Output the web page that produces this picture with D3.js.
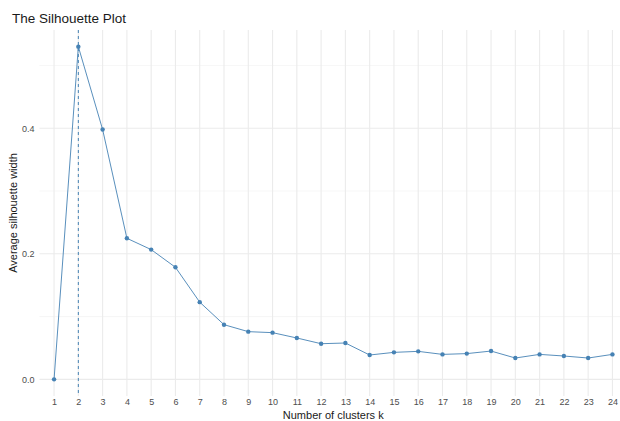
<!DOCTYPE html>
<html>
<head>
<meta charset="utf-8">
<script src="https://cdn.jsdelivr.net/npm/d3@7"></script>
<style>
  body { margin: 0; background: #fff; }
  text { font-family: "Liberation Sans", Arial, sans-serif; }
</style>
</head>
<body>
<div id="chart"></div>
<script>
// number of clusters and average silhouette widths
const clusters = d3.range(1, 25);
const silWidth = [0, 0.530, 0.398, 0.2247, 0.2067, 0.1785, 0.123, 0.0871, 0.076, 0.0744,
  0.0659, 0.0568, 0.0579, 0.0388, 0.043, 0.0446, 0.0398, 0.041, 0.0451, 0.034,
  0.0398, 0.0372, 0.034, 0.0398];
const optimalK = 2;
const yMajor = [0, 0.2, 0.4];
const yMinor = [0.1, 0.3, 0.5];

const W = 620, H = 421;
const panel = {left: 39.5, right: 627, top: 30, bottom: 396};
const lineColor = "#4682B4";

const svg = d3.select("#chart")
  .append("svg")
  .attr("width", W)
  .attr("height", H);

// discrete x axis, 0.6 unit padding each side
const x = d3.scaleLinear()
  .domain([1 - 0.6, 24 + 0.6])
  .range([panel.left, panel.right]);

// 5% expansion on y
const yMax = d3.max(silWidth);
const yPad = yMax * 0.05;
const y = d3.scaleLinear()
  .domain([-yPad, yMax + yPad])
  .range([panel.bottom, panel.top]);

const grid = svg.append("g");

// minor gridlines
grid.selectAll(".minor")
  .data(yMinor)
  .join("line")
    .attr("x1", panel.left).attr("x2", panel.right)
    .attr("y1", d => y(d)).attr("y2", d => y(d))
    .attr("stroke", "#f0f0f0")
    .attr("stroke-width", 0.6);

// major gridlines
grid.selectAll(".majorY")
  .data(yMajor)
  .join("line")
    .attr("x1", panel.left).attr("x2", panel.right)
    .attr("y1", d => y(d)).attr("y2", d => y(d))
    .attr("stroke", "#ebebeb")
    .attr("stroke-width", 1.1);

grid.selectAll(".majorX")
  .data(clusters)
  .join("line")
    .attr("x1", d => x(d)).attr("x2", d => x(d))
    .attr("y1", panel.top).attr("y2", panel.bottom)
    .attr("stroke", "#ebebeb")
    .attr("stroke-width", 1.1);

// x axis labels
const xAxis = svg.append("g")
  .attr("transform", `translate(0, ${panel.bottom})`)
  .call(d3.axisBottom(x).tickValues(clusters).tickSize(0).tickPadding(3).tickFormat(d3.format("d")));
xAxis.select(".domain").remove();
xAxis.selectAll("text")
  .attr("fill", "#4d4d4d")
  .style("font-size", "9px");

// y axis labels
const yAxis = svg.append("g")
  .attr("transform", `translate(${panel.left}, 0)`)
  .call(d3.axisLeft(y).tickValues(yMajor).tickSize(0).tickPadding(5).tickFormat(d3.format(".1f")));
yAxis.select(".domain").remove();
yAxis.selectAll("text")
  .attr("fill", "#4d4d4d")
  .style("font-size", "9px");

// dashed line at optimal k
svg.append("line")
  .attr("x1", x(optimalK)).attr("x2", x(optimalK))
  .attr("y1", panel.top).attr("y2", panel.bottom)
  .attr("stroke", lineColor)
  .attr("stroke-width", 1)
  .attr("stroke-dasharray", "3,3");

// line
const pts = clusters.map((k, i) => ({k: k, v: silWidth[i]}));
svg.append("path")
  .datum(pts)
  .attr("fill", "none")
  .attr("stroke", lineColor)
  .attr("stroke-width", 0.9)
  .attr("d", d3.line()
    .x(d => x(d.k))
    .y(d => y(d.v)));

// points
svg.append("g")
  .selectAll("circle")
  .data(pts)
  .join("circle")
    .attr("cx", d => x(d.k))
    .attr("cy", d => y(d.v))
    .attr("r", 2.2)
    .attr("fill", lineColor);

// titles
svg.append("text")
  .attr("x", 12)
  .attr("y", 23)
  .attr("fill", "#1a1a1a")
  .style("font-size", "13.5px")
  .text("The Silhouette Plot");

svg.append("text")
  .attr("text-anchor", "middle")
  .attr("x", (panel.left + panel.right) / 2)
  .attr("y", 418.5)
  .attr("fill", "#1a1a1a")
  .style("font-size", "11px")
  .text("Number of clusters k");

svg.append("text")
  .attr("text-anchor", "middle")
  .attr("transform", "rotate(-90)")
  .attr("x", -(panel.top + panel.bottom) / 2)
  .attr("y", 17)
  .attr("fill", "#1a1a1a")
  .style("font-size", "11px")
  .text("Average silhouette width");
</script>
</body>
</html>
